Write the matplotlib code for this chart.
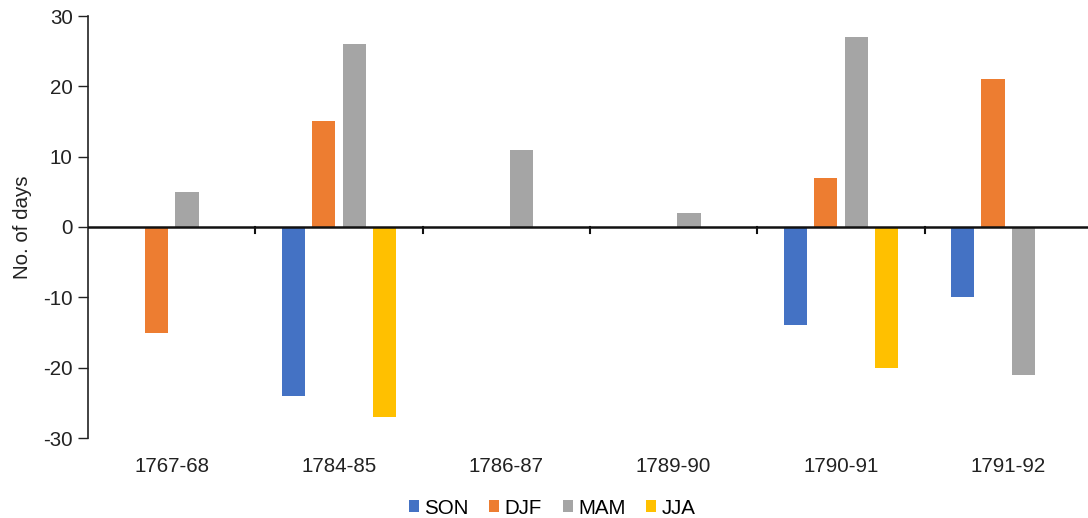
import matplotlib
matplotlib.use("Agg")
import matplotlib.pyplot as plt
import numpy as np

plt.rcParams['font.family'] = ['Liberation Sans', 'DejaVu Sans']

categories = ["1767-68", "1784-85", "1786-87", "1789-90", "1790-91", "1791-92"]
series_names = ["SON", "DJF", "MAM", "JJA"]
son = [0, -24, 0, 0, -14, -10]
djf = [-15, 15, 0, 0, 7, 21]
mam = [5, 26, 11, 2, 27, -21]
jja = [0, -27, 0, 0, -20, 0]
colors = ["#4472C4", "#ED7D31", "#A5A5A5", "#FFC000"]
yticks = [-30, -20, -10, 0, 10, 20, 30]

W, H = 1088, 518
fig = plt.figure(figsize=(W / 100, H / 100), dpi=100)
ax = fig.add_axes([88 / W, (H - 438) / H, 1004 / W, 422 / H])

x = np.arange(len(categories))
spacing = 0.182
width = 0.14
handles = []
for i, (vals, c, name) in enumerate(zip([son, djf, mam, jja], colors, series_names)):
    b = ax.bar(x + (i - 1.5) * spacing, vals, width, color=c, label=name, zorder=2)
    handles.append(b)

ax.set_xlim(-0.5, len(categories) - 0.5)
ax.set_ylim(-30, 30)
ax.set_yticks(yticks)
ax.set_yticklabels([str(v) for v in yticks], fontsize=14.8, color="#222222")
ax.tick_params(axis='y', length=7, width=1, color="#222222", pad=4)

for s in ['top', 'right', 'bottom']:
    ax.spines[s].set_visible(False)
ax.spines['left'].set_color("#222222")
ax.spines['left'].set_linewidth(1.2)
ax.axhline(0, color="#111111", lw=1.8, zorder=3)

# category separators at zero line
ax.set_xticks([])
for k in range(1, len(categories)):
    ax.plot([k - 0.5, k - 0.5], [0, -0.9], color="#111111", lw=1.5, zorder=3, clip_on=False)

label_y = -(467 - 438) / 422
for k, cat in enumerate(categories):
    ax.text(k, label_y, cat, ha='center', va='center', fontsize=14.8, color="#222222",
            transform=ax.get_xaxis_transform(), clip_on=False)

ax.set_ylabel("No. of days", fontsize=14.8, color="#222222", labelpad=8)

fig.legend(handles=handles, labels=series_names, loc='center', bbox_to_anchor=(552 / W, (H - 508) / H),
           ncol=4, frameon=False, fontsize=14.8, handlelength=0.5, handleheight=0.5,
           handletextpad=0.25, columnspacing=1.0)

fig.savefig("out.png", dpi=100)
